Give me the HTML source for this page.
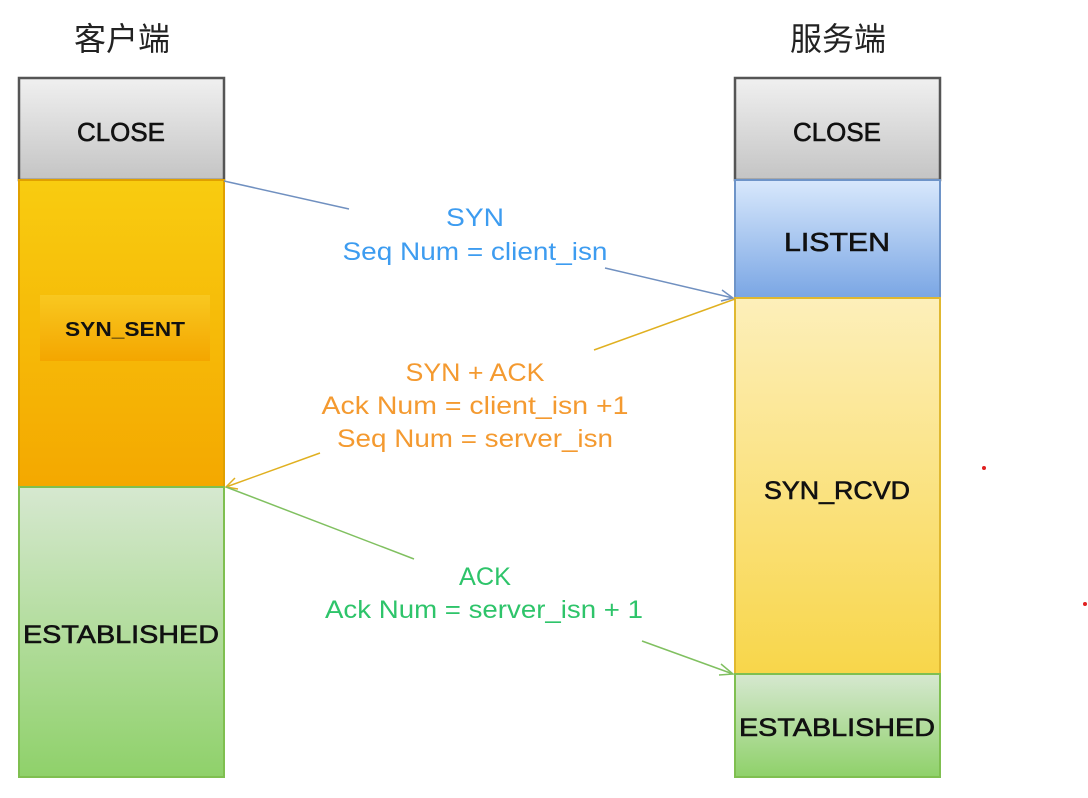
<!DOCTYPE html>
<html><head><meta charset="utf-8"><style>
html,body{margin:0;padding:0;background:#fff;}
svg{display:block}
text{font-family:"Liberation Sans","Noto Sans CJK SC",sans-serif;}
</style></head><body>
<svg width="1088" height="798" viewBox="0 0 1088 798" xmlns="http://www.w3.org/2000/svg">
<defs>
<linearGradient id="gray" x1="0" y1="0" x2="0" y2="1"><stop offset="0" stop-color="#f0f0f0"/><stop offset="1" stop-color="#c4c4c4"/></linearGradient>
<linearGradient id="orange" x1="0" y1="0" x2="0" y2="1"><stop offset="0" stop-color="#f8cc10"/><stop offset="1" stop-color="#f4a800"/></linearGradient>
<linearGradient id="green" x1="0" y1="0" x2="0" y2="1"><stop offset="0" stop-color="#d6e8d0"/><stop offset="1" stop-color="#8fd16a"/></linearGradient>
<linearGradient id="blue" x1="0" y1="0" x2="0" y2="1"><stop offset="0" stop-color="#d8e8fc"/><stop offset="1" stop-color="#7aa6e4"/></linearGradient>
<linearGradient id="yellow" x1="0" y1="0" x2="0" y2="1"><stop offset="0" stop-color="#fdefba"/><stop offset="1" stop-color="#f8d64a"/></linearGradient>
<linearGradient id="inner" x1="0" y1="0" x2="0" y2="1"><stop offset="0" stop-color="#f8c820"/><stop offset="1" stop-color="#f4a600"/></linearGradient>
</defs>
<text x="122" y="50" font-size="32" text-anchor="middle" fill="#222">客户端</text>
<text x="838" y="50" font-size="32" text-anchor="middle" fill="#222">服务端</text>

<rect x="19" y="78" width="205" height="102" fill="url(#gray)" stroke="#555" stroke-width="2.5"/>
<rect x="19" y="180" width="205" height="307" fill="url(#orange)" stroke="#e0a000" stroke-width="2"/>
<rect x="40" y="295" width="170" height="66" fill="url(#inner)"/>
<rect x="19" y="487" width="205" height="290" fill="url(#green)" stroke="#7fbf50" stroke-width="2"/>
<text x="121" y="141" font-size="26" text-anchor="middle" fill="#111" stroke="#111" stroke-width="0.6" textLength="88" lengthAdjust="spacingAndGlyphs">CLOSE</text>
<text x="125" y="336" font-size="20" font-weight="bold" text-anchor="middle" fill="#111" textLength="120" lengthAdjust="spacingAndGlyphs">SYN_SENT</text>
<text x="121" y="643" font-size="25" text-anchor="middle" fill="#111" stroke="#111" stroke-width="0.6" textLength="196" lengthAdjust="spacingAndGlyphs">ESTABLISHED</text>

<rect x="735" y="78" width="205" height="102" fill="url(#gray)" stroke="#555" stroke-width="2.5"/>
<rect x="735" y="180" width="205" height="118" fill="url(#blue)" stroke="#6e94c8" stroke-width="2"/>
<rect x="735" y="298" width="205" height="376" fill="url(#yellow)" stroke="#e0b830" stroke-width="2"/>
<rect x="735" y="674" width="205" height="103" fill="url(#green)" stroke="#7fbf50" stroke-width="2"/>
<text x="837" y="141" font-size="26" text-anchor="middle" fill="#111" stroke="#111" stroke-width="0.6" textLength="88" lengthAdjust="spacingAndGlyphs">CLOSE</text>
<text x="837" y="251" font-size="26" text-anchor="middle" fill="#111" stroke="#111" stroke-width="0.6" textLength="106" lengthAdjust="spacingAndGlyphs">LISTEN</text>
<text x="837" y="499" font-size="25" text-anchor="middle" fill="#111" stroke="#111" stroke-width="0.6" textLength="146" lengthAdjust="spacingAndGlyphs">SYN_RCVD</text>
<text x="837" y="736" font-size="25" text-anchor="middle" fill="#111" stroke="#111" stroke-width="0.6" textLength="196" lengthAdjust="spacingAndGlyphs">ESTABLISHED</text>

<g fill="none" stroke-width="1.5">
<path d="M224 181 L349 209 M605 268 L733 298" stroke="#7090c0"/>
<path d="M722 290 L733 298 L721 301" stroke="#7090c0"/>
<path d="M735 299 L594 350 M320 453 L226 487" stroke="#e0b020"/>
<path d="M235 478 L226 487 L238 489" stroke="#e0b020"/>
<path d="M226 487 L414 559 M642 641 L733 674" stroke="#80c060"/>
<path d="M721 664 L733 674 L719 675" stroke="#80c060"/>
</g>

<text x="475" y="226" font-size="25" text-anchor="middle" fill="#3d9cf0" textLength="58" lengthAdjust="spacingAndGlyphs">SYN</text>
<text x="475" y="260" font-size="25" text-anchor="middle" fill="#3d9cf0" textLength="265" lengthAdjust="spacingAndGlyphs">Seq Num = client_isn</text>
<text x="475" y="381" font-size="25" text-anchor="middle" fill="#f49a30" textLength="139" lengthAdjust="spacingAndGlyphs">SYN + ACK</text>
<text x="475" y="414" font-size="25" text-anchor="middle" fill="#f49a30" textLength="307" lengthAdjust="spacingAndGlyphs">Ack Num =  client_isn +1</text>
<text x="475" y="447" font-size="25" text-anchor="middle" fill="#f49a30" textLength="276" lengthAdjust="spacingAndGlyphs">Seq Num = server_isn</text>
<text x="485" y="585" font-size="25" text-anchor="middle" fill="#2ec46a" textLength="52" lengthAdjust="spacingAndGlyphs">ACK</text>
<text x="484" y="618" font-size="25" text-anchor="middle" fill="#2ec46a" textLength="318" lengthAdjust="spacingAndGlyphs">Ack Num = server_isn + 1</text>

<circle cx="984" cy="468" r="2" fill="#e02020"/>
<circle cx="1085" cy="604" r="2" fill="#e02020"/>
</svg>
</body></html>
